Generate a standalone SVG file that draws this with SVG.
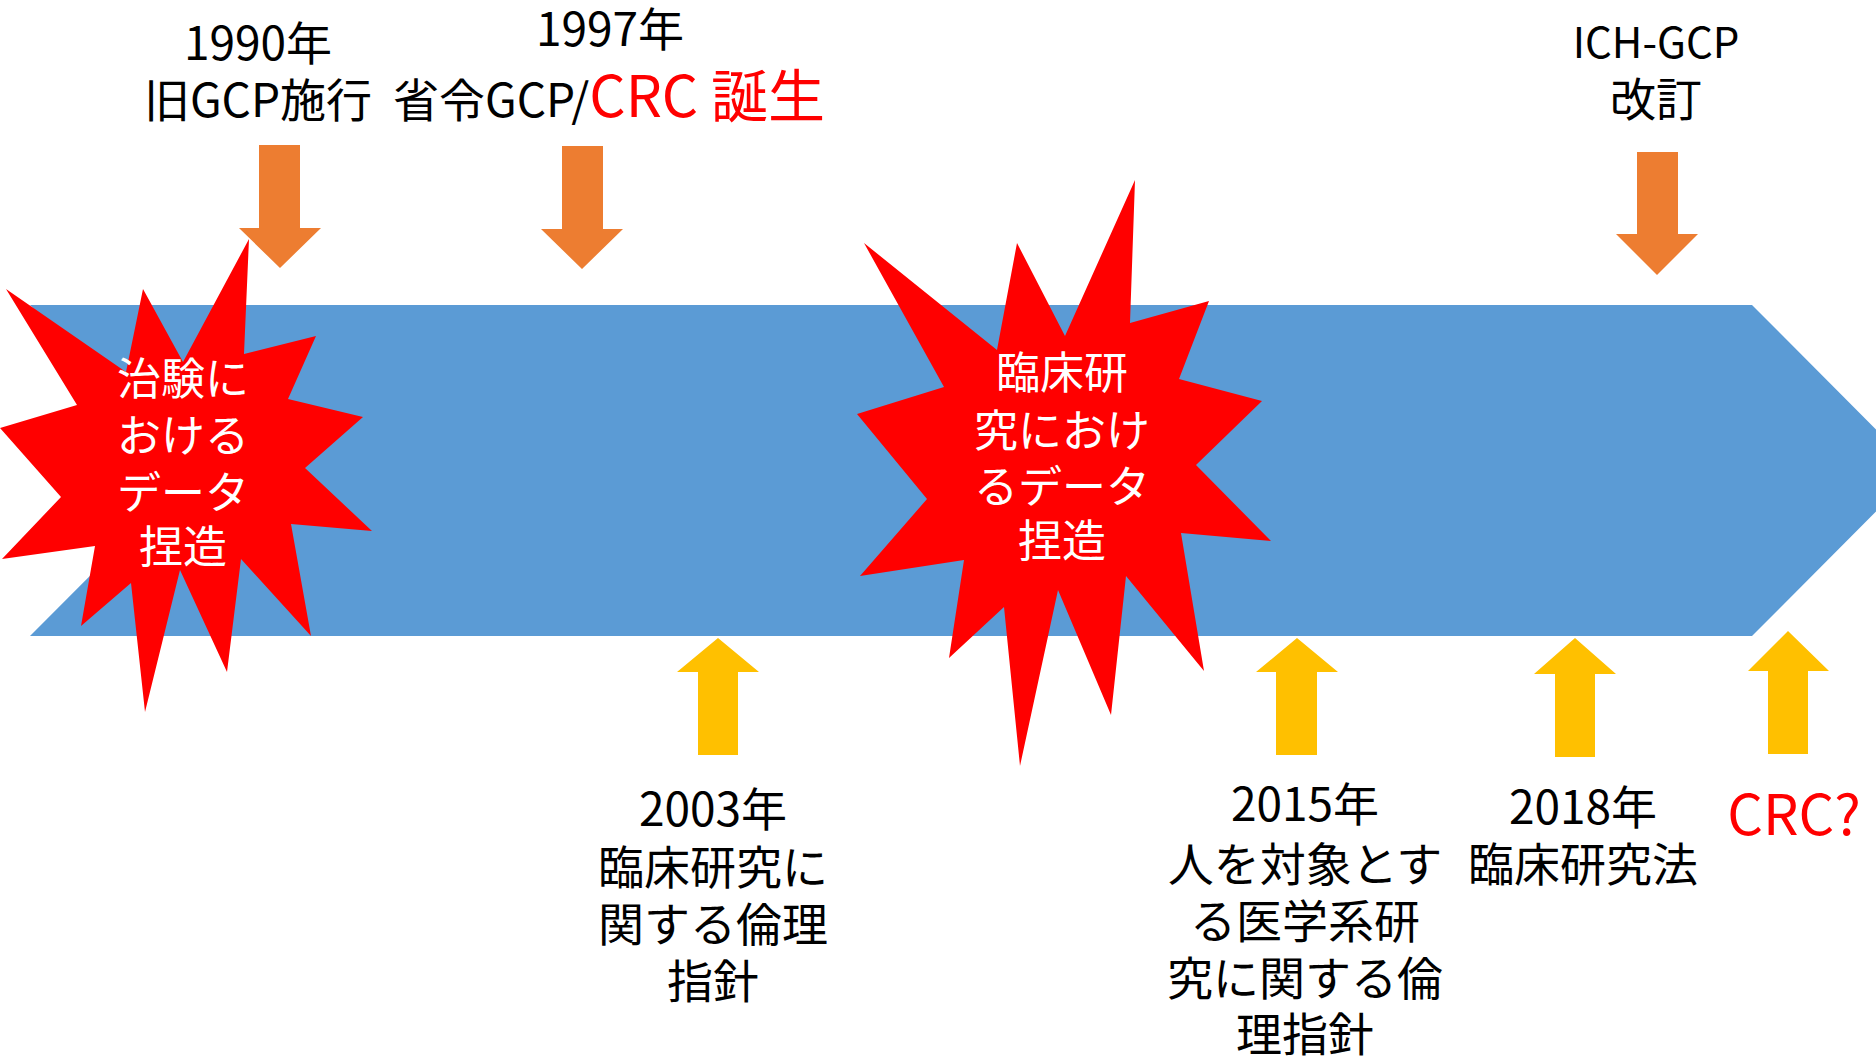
<svg xmlns="http://www.w3.org/2000/svg" width="1876" height="1056" viewBox="0 0 1876 1056">
<style>
  .lbl { font-family: "Noto Sans CJK JP", "Liberation Sans", sans-serif; font-size: 46px; fill: #000000; text-anchor: middle; }
  .red { fill: #FF0000; }
  .big { font-size: 57px; }
  .burst { fill: #FF0000; }
  .btxt { font-family: "Noto Sans CJK JP", "Liberation Sans", sans-serif; font-size: 44px; fill: #FFFFFF; text-anchor: middle; }
  .down { fill: #ED7D31; }
  .up { fill: #FFC000; }
  .band { fill: #5B9BD5; }
</style>
<rect width="1876" height="1056" fill="#FFFFFF"/>

<g id="timeline">
  <polygon class="band" points="30,305 1752,305 1917,470.5 1752,636 30,636 195,470.5"/>
</g>

<g id="connectors">
  <path class="down" d="M259,145 H300 V228 H321 L280,268 L239,228 H259 Z"/>
  <path class="down" d="M562,146 H603 V229 H623 L582,269 L541,229 H562 Z"/>
  <path class="down" d="M1637,152 H1678 V234 H1698 L1657,275 L1616,234 H1637 Z"/>
  <path class="up" d="M698,755 H738 V672 H759 L718,638 L677,672 H698 Z"/>
  <path class="up" d="M1276,755 H1317 V672 H1338 L1297,638 L1256,672 H1276 Z"/>
  <path class="up" d="M1555,757 H1595 V674 H1616 L1575,638 L1534,674 H1555 Z"/>
  <path class="up" d="M1768,754 H1808 V671 H1829 L1788,631 L1748,671 H1768 Z"/>
</g>

<g id="burst1">
  <polygon class="burst" points="6,289 126,372 143,289 183,362 249,239 244,354 316,336 288,399 363,417 305,468 372,531 291,524 311,636 241,559 227,672 180,570 145,712 131,583 81,626 95,546 2,559 61,497 0,428 77,405"/>
  <text class="btxt" x="183" y="395">治験に</text>
  <text class="btxt" x="183" y="452">おける</text>
  <text class="btxt" x="183" y="509">データ</text>
  <text class="btxt" x="183" y="563">捏造</text>
</g>

<g id="burst2">
  <polygon class="burst" points="864,243 997,350 1017,243 1065,336 1135,180 1130,323 1209,301 1179,379 1262,401 1196,465 1271,541 1181,533 1204,671 1126,576 1111,715 1058,590 1020,766 1004,607 949,658 964,560 860,576 927,499 857,414 944,387"/>
  <text class="btxt" x="1062" y="389">臨床研</text>
  <text class="btxt" x="1062" y="447">究におけ</text>
  <text class="btxt" x="1062" y="503">るデータ</text>
  <text class="btxt" x="1062" y="557">捏造</text>
</g>

<g id="label-1990">
  <text class="lbl" x="258" y="60">1990年</text>
  <text class="lbl" x="258" y="117">旧GCP施行</text>
</g>

<g id="label-1997">
  <text class="lbl" x="610" y="46">1997年</text>
  <text class="lbl" x="609" y="117">省令GCP/<tspan class="red big">CRC 誕生</tspan></text>
</g>

<g id="label-ich">
  <text class="lbl" x="1656" y="58" style="font-size:42px">ICH-GCP</text>
  <text class="lbl" x="1656" y="116">改訂</text>
</g>

<g id="label-2003">
  <text class="lbl" x="713" y="826">2003年</text>
  <text class="lbl" x="713" y="884">臨床研究に</text>
  <text class="lbl" x="713" y="941">関する倫理</text>
  <text class="lbl" x="713" y="998">指針</text>
</g>

<g id="label-2015">
  <text class="lbl" x="1305" y="821">2015年</text>
  <text class="lbl" x="1305" y="881">人を対象とす</text>
  <text class="lbl" x="1305" y="938">る医学系研</text>
  <text class="lbl" x="1305" y="995">究に関する倫</text>
  <text class="lbl" x="1305" y="1051">理指針</text>
</g>

<g id="label-2018">
  <text class="lbl" x="1583" y="824">2018年</text>
  <text class="lbl" x="1583" y="881">臨床研究法</text>
</g>

<g id="label-crc">
  <text class="lbl red" x="1794" y="835" style="font-size:56px">CRC?</text>
</g>
</svg>
